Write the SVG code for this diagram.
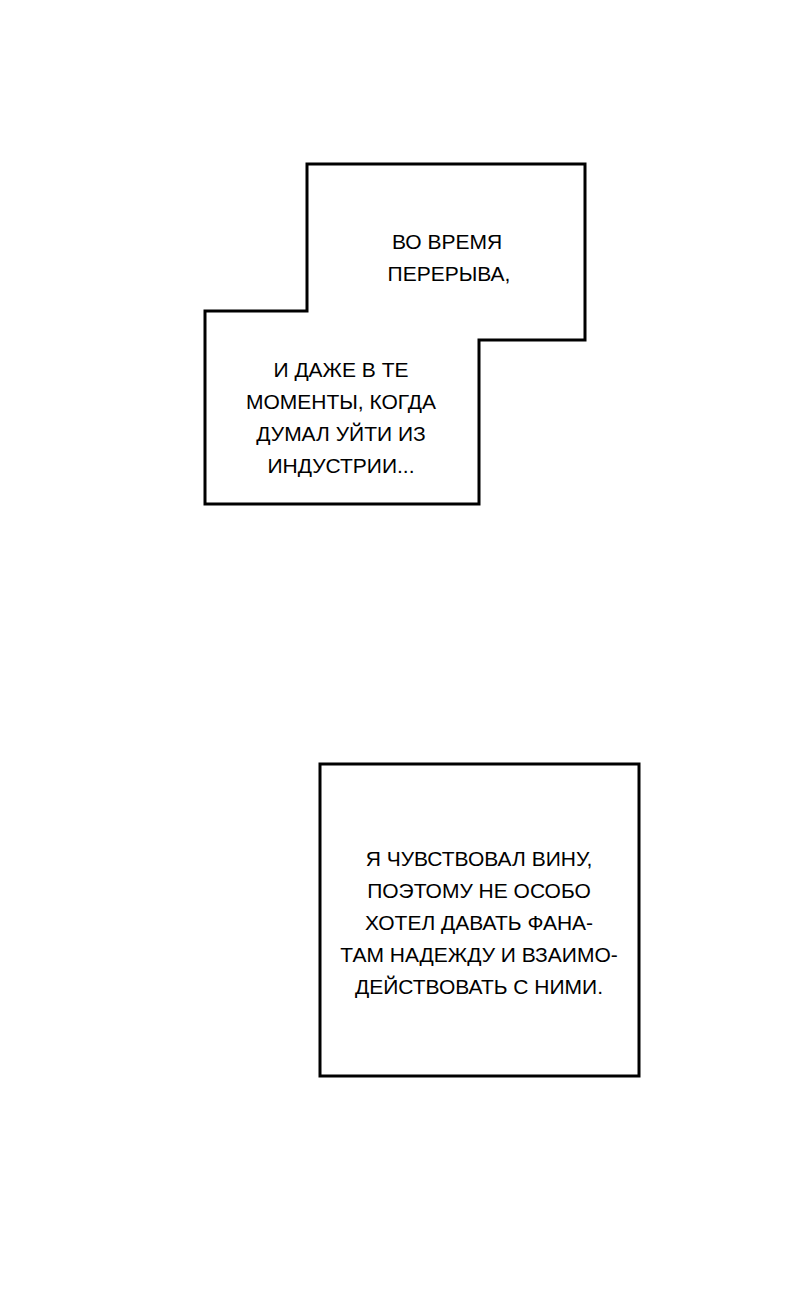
<svg xmlns="http://www.w3.org/2000/svg" width="800" height="1298" viewBox="0 0 800 1298">
<style>
.b{fill:#fff;stroke:#000;stroke-width:3;stroke-linejoin:miter}
.t{font-family:"Liberation Sans",Arial,sans-serif;font-size:21px;fill:#000;text-anchor:middle}
</style>
<rect width="800" height="1298" fill="#fff"/>
<g id="box1">
<path class="b" d="M307,164 H585 V340 H479 V504 H205 V311 H307 Z"/>
<text class="t" x="447" y="249">ВО ВРЕМЯ</text>
<text class="t" x="449" y="281">ПЕРЕРЫВА,</text>
</g>
<g id="box2">
<text class="t" x="341" y="377">И ДАЖЕ В ТЕ</text>
<text class="t" x="341" y="409">МОМЕНТЫ, КОГДА</text>
<text class="t" x="341" y="441">ДУМАЛ УЙТИ ИЗ</text>
<text class="t" x="341" y="473">ИНДУСТРИИ...</text>
</g>
<g id="box3">
<rect class="b" x="320" y="764" width="319" height="312"/>
<text class="t" x="479" y="866">Я ЧУВСТВОВАЛ ВИНУ,</text>
<text class="t" x="479" y="898">ПОЭТОМУ НЕ ОСОБО</text>
<text class="t" x="479" y="930">ХОТЕЛ ДАВАТЬ ФАНА-</text>
<text class="t" x="479" y="962">ТАМ НАДЕЖДУ И ВЗАИМО-</text>
<text class="t" x="479" y="994">ДЕЙСТВОВАТЬ С НИМИ.</text>
</g>
<g id="connectors"/>
</svg>
